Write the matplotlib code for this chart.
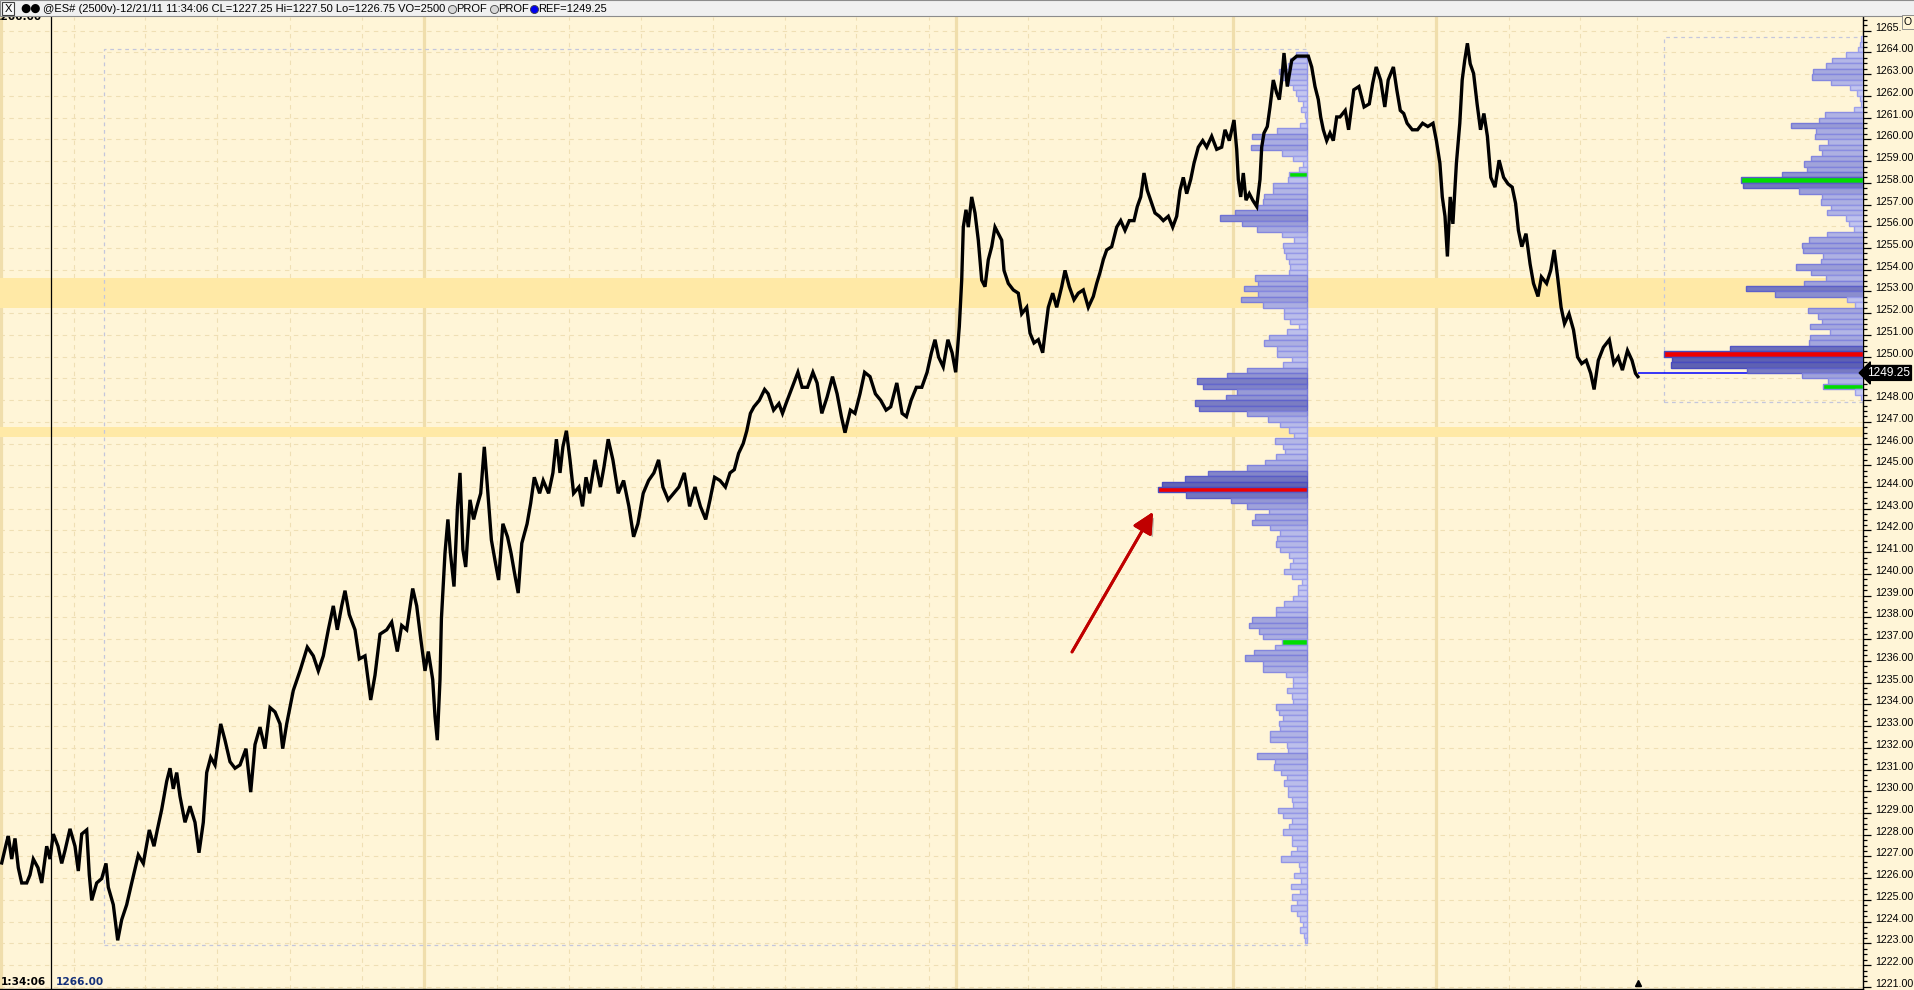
import numpy as np
import matplotlib.pyplot as plt
from matplotlib.patches import Rectangle
from matplotlib.lines import Line2D
from matplotlib.colors import to_rgb
from matplotlib.ticker import MultipleLocator
from matplotlib.transforms import Bbox
import matplotlib.patheffects as pe

plt.rcParams['font.family'] = ['Liberation Sans', 'DejaVu Sans']

# ---- values ----
# (bar position, price) of the @ES# 2500-volume bars
path_a = [(1.7, 1226.70), (6.7, 1227.67), (8.3, 1227.94), (11.7, 1226.88), (15, 1227.83), (18.3, 1226.48),
          (21.7, 1225.78), (26.7, 1225.78), (30, 1226.15), (33.3, 1226.88), (38, 1226.48), (41.7, 1225.78),
          (46.7, 1227.47), (50, 1226.88), (53.3, 1228.03), (58, 1227.47), (61.7, 1226.68), (65, 1227.27),
          (70, 1228.27), (75, 1227.47), (78.3, 1226.33), (81.7, 1228.03), (86.7, 1228.22), (89.3, 1226.15),
          (91.7, 1224.98), (96.7, 1225.78), (101.7, 1225.98), (106, 1226.68), (108.3, 1225.58), (113.3, 1224.78),
          (117.7, 1223.14), (121.7, 1224.09), (126.7, 1224.78), (131.7, 1225.78), (138.3, 1227.07), (143.3, 1226.68),
          (149.3, 1228.22), (154, 1227.47), (157.3, 1228.22), (161.7, 1229.16), (166.7, 1230.46), (170, 1231.06),
          (173.3, 1230.11), (176.7, 1230.86), (180, 1229.76), (185, 1228.57), (190, 1229.31), (195, 1228.57),
          (199, 1227.17), (203.3, 1228.57), (206.7, 1230.86), (210.7, 1231.56), (215, 1231.21), (220.7, 1233.10),
          (225, 1232.35), (230, 1231.36), (235, 1231.06), (240, 1231.21), (246, 1231.96), (250.7, 1229.96),
          (255, 1232.15), (260, 1232.95), (265, 1231.96), (270, 1233.85), (275, 1233.65), (280, 1233.10),
          (282.7, 1231.96), (286.7, 1233.10), (293.3, 1234.64), (300, 1235.54), (307.3, 1236.63), (313.3, 1236.23),
          (318.3, 1235.54), (323.3, 1236.23), (328.3, 1237.43), (333.3, 1238.53), (337.3, 1237.43), (341.7, 1238.53),
          (345, 1239.23), (349.3, 1238.13), (355, 1237.43), (359.3, 1236.09), (365, 1236.23), (370.7, 1234.20),
          (375, 1235.34), (380, 1237.23), (386.7, 1237.43), (391.7, 1237.78), (397.3, 1236.43), (401.7, 1237.63),
          (406.7, 1237.43), (412.7, 1239.33), (416.7, 1238.53), (420.7, 1237.03), (425, 1235.54), (428.3, 1236.43),
          (432.7, 1235.14), (435, 1233.45), (437.3, 1232.35), (440, 1235.14)]
path_b = [(441.4, 1237.93), (445, 1240.97), (447.9, 1242.51), (450.4, 1240.97), (454, 1239.42), (457.5, 1243.11),
          (460, 1244.65), (462.9, 1241.12), (465.7, 1240.32), (470, 1243.41), (473.6, 1242.51), (477, 1243.11),
          (480.7, 1243.71), (484.3, 1245.85), (487.9, 1243.71), (491.4, 1241.56), (495, 1240.62), (498.6, 1239.72),
          (502.9, 1242.31), (507.5, 1241.71), (511, 1240.97), (514.6, 1240.02), (518.2, 1239.12), (521.8, 1241.41),
          (527.1, 1242.31), (530.7, 1243.26), (534.3, 1244.45), (539.6, 1243.71), (543.2, 1244.30), (548.6, 1243.71),
          (552.9, 1244.65), (556.4, 1246.20), (560, 1244.65), (562.9, 1245.85), (566.4, 1246.59), (570, 1245.25),
          (573.6, 1243.71), (578.9, 1244.00), (582.5, 1243.11), (586, 1244.45), (589.6, 1243.71), (595, 1245.25),
          (600.4, 1244.00), (603.9, 1244.90), (608.2, 1246.20), (612.9, 1245.25), (618.2, 1243.71), (623.6, 1244.30),
          (628.9, 1243.11), (633.6, 1241.71), (637.9, 1242.31), (643.2, 1243.71), (648.6, 1244.30), (653.9, 1244.65),
          (658.6, 1245.25), (662.9, 1244.00), (668.2, 1243.41), (673.6, 1243.71), (678.9, 1244.00), (684.3, 1244.65),
          (689.6, 1243.11), (695, 1244.00), (700.4, 1243.11), (705.7, 1242.51), (710, 1243.41), (714.6, 1244.45),
          (720, 1244.30), (725.4, 1244.00), (730, 1244.65), (734.3, 1244.80), (738.6, 1245.55), (743.2, 1246.00),
          (746.8, 1246.59), (750.4, 1247.39), (753.9, 1247.69), (759.3, 1247.99), (764.6, 1248.49), (768.2, 1248.29),
          (773.6, 1247.54), (778.9, 1247.84), (782.5, 1247.39), (786, 1247.84), (791.4, 1248.49), (797.9, 1249.28),
          (802.1, 1248.59), (807.5, 1248.59), (812.9, 1249.28), (817.1, 1248.79), (821.8, 1247.39), (827.1, 1248.14),
          (832.5, 1249.08), (837.1, 1248.29), (841.4, 1247.24), (845, 1246.50), (850.4, 1247.54), (855, 1247.39),
          (860, 1248.29), (864.6, 1249.28), (870, 1249.08), (875.4, 1248.29), (880.7, 1247.99), (886.1, 1247.54),
          (890.7, 1247.69), (896.8, 1248.79), (902.1, 1247.39), (906.4, 1247.24), (911.1, 1247.99), (916.4, 1248.59),
          (921.8, 1248.59), (927.1, 1249.28), (931.4, 1250.18), (935, 1250.78), (938.6, 1249.98), (943.2, 1249.53),
          (947.9, 1250.78), (952.1, 1250.18), (955.7, 1249.28), (959.3, 1251.38)]
path_c = [(961.7, 1253.52), (963.3, 1255.96), (966, 1256.76), (968.3, 1255.96), (971.7, 1257.35), (975, 1256.61),
          (978.3, 1255.36), (981.7, 1253.52), (985, 1253.22), (988.3, 1254.46), (991.7, 1255.06), (995, 1255.96),
          (998.3, 1255.66), (1001.7, 1255.36), (1004, 1253.97), (1008.3, 1253.37), (1013.3, 1253.07), (1018.3, 1252.92),
          (1021.7, 1251.97), (1026.7, 1252.27), (1030, 1251.08), (1034, 1250.63), (1038.3, 1250.78), (1042.7, 1250.18),
          (1045, 1251.08), (1048.3, 1252.27), (1052.7, 1252.92), (1056.7, 1252.27), (1061.7, 1253.22), (1065, 1253.97),
          (1069.3, 1253.22), (1074, 1252.62), (1078.3, 1252.92), (1083.3, 1253.07), (1088.3, 1252.27), (1093.3, 1252.77),
          (1096.7, 1253.37), (1100, 1253.87), (1103.3, 1254.46), (1106.7, 1254.91), (1111.7, 1255.06), (1116.7, 1255.96),
          (1120.7, 1256.26), (1125, 1255.81), (1129.3, 1256.26), (1134, 1256.26), (1137.3, 1256.91), (1140.7, 1257.35),
          (1144, 1258.45), (1147.3, 1257.65), (1151.7, 1257.05), (1155, 1256.61), (1159.3, 1256.46), (1163.3, 1256.26),
          (1168.3, 1256.46), (1172.7, 1255.96), (1176.7, 1256.46), (1180, 1257.65), (1183.3, 1258.25), (1186.7, 1257.50),
          (1190.7, 1258.15), (1194, 1258.90), (1198.3, 1259.64), (1202.7, 1259.94), (1206.7, 1259.64), (1211.7, 1260.14),
          (1216.7, 1259.54), (1221.7, 1259.64), (1225, 1260.44), (1229.3, 1259.94), (1234, 1260.89), (1236.7, 1259.54),
          (1238.3, 1258.15), (1240.7, 1257.35), (1243.3, 1258.45), (1246, 1257.20), (1249.3, 1257.50), (1252.7, 1257.20),
          (1256.7, 1256.91), (1260, 1258.15), (1261.7, 1259.64), (1264, 1260.29), (1267.3, 1260.59), (1270, 1261.49),
          (1273.3, 1262.73), (1276.7, 1262.13), (1279.3, 1261.83), (1281.7, 1262.73), (1284, 1263.97), (1287.3, 1262.43),
          (1291.7, 1263.63), (1296.7, 1263.83), (1303.3, 1263.83), (1308.3, 1263.83), (1311.7, 1263.33), (1315, 1262.43),
          (1318.3, 1261.83), (1320.7, 1261.03), (1323.3, 1260.44), (1326.7, 1259.94), (1330, 1260.29), (1333.3, 1259.94),
          (1336.7, 1261.03)]
path_d = [(1340, 1261.03), (1345.2, 1261.33), (1348.6, 1260.44), (1353.8, 1262.28), (1358.9, 1262.43), (1364.1, 1261.49),
          (1369.3, 1261.63), (1372.7, 1262.58), (1376.2, 1263.33), (1380.6, 1262.73), (1384.8, 1261.49), (1388.2, 1262.73),
          (1393.4, 1263.33), (1396.8, 1262.28), (1400.3, 1261.33), (1403.7, 1261.19), (1407.1, 1260.74), (1412.3, 1260.44),
          (1417.5, 1260.44), (1422.6, 1260.74), (1427.8, 1260.59), (1433, 1260.74), (1436.4, 1259.94), (1439.9, 1258.90),
          (1442.3, 1257.35), (1445, 1256.46), (1447.4, 1254.61), (1450.2, 1257.35), (1452.9, 1256.11), (1456.4, 1258.90),
          (1459.8, 1260.74), (1462.2, 1262.73), (1464.7, 1263.63), (1467.4, 1264.42), (1470.2, 1263.48), (1473.6, 1263.03),
          (1477.1, 1261.63), (1480.5, 1260.44), (1483.9, 1261.19), (1487.4, 1260.14), (1490.8, 1258.25), (1495, 1257.80),
          (1499.1, 1259.04), (1503.6, 1258.25), (1508, 1257.95), (1512.2, 1257.80), (1515.6, 1257.05), (1518.4, 1255.81),
          (1521.8, 1255.06), (1526, 1255.66), (1530.1, 1254.26), (1533.5, 1253.37), (1538, 1252.77), (1541.4, 1253.67),
          (1546.6, 1253.37), (1550.7, 1253.97), (1554.2, 1254.91), (1557.6, 1253.67), (1561.1, 1252.27), (1564.5, 1251.52),
          (1569, 1251.97), (1573.5, 1251.23), (1577.6, 1249.98), (1581.7, 1249.68), (1586.2, 1249.83), (1590.7, 1249.23),
          (1594.1, 1248.49), (1598.3, 1249.83), (1603.4, 1250.43), (1609.3, 1250.78), (1613.8, 1249.68), (1618.2, 1249.98),
          (1622.4, 1249.38), (1627.5, 1250.28), (1632, 1249.83), (1635.5, 1249.23), (1637.9, 1249.08)]

last_price = 1249.25

# volume profile of the previous session, 0.25 bins from the top down
vp1_top = 1264.0
vp1_vol = [11.6, 17.3, 19, 28.3, 26.7, 18, 14, 11.6, 9, 4,
           6.6, 2.3, 1.3, 7.3, 30, 55, 45, 56.6, 25.6, 14,
           4, 8, 18, 19.6, 34.6, 34.6, 43, 44, 49, 72,
           87.3, 65, 50.6, 25, 13, 24, 23, 21.3, 18, 17.3,
           18, 52, 49.6, 63, 49, 66.3, 44, 23, 23, 17.3,
           8, 20, 38, 43, 30, 30, 15.6, 24, 60, 80,
           110, 104, 70, 81.3, 112, 108, 60, 39, 27, 18,
           13, 32, 24, 22, 31, 42, 60, 99, 122, 145,
           149, 121, 76, 60, 38, 52, 55, 37, 27, 30,
           31, 27, 18, 14, 17, 23, 15, 5, 9, 9,
           14, 23, 31, 31, 55, 58, 48, 44, 25, 32,
           53, 62, 44, 44, 21, 14, 14, 20, 15, 14,
           31, 28, 24, 28, 27, 37, 37, 20, 19, 50,
           32, 33, 26, 20, 23, 19, 19, 15, 14, 29,
           24, 15, 18, 24, 15, 15, 10, 16, 26, 8,
           7, 13, 6, 16, 7, 15, 10, 16, 10, 7,
           4, 7, 3, 2]
vp1_poc = 1243.75
vp1_marks = [1258.25, 1236.75]

# volume profile of the current session
vp2_top = 1264.75
vp2_vol = [1.7, 2.8, 5.2, 17.2, 31, 37.2, 50.3, 51.3, 32, 12.7,
           6.2, 3.4, 1.7, 9, 37.9, 44, 72, 46.8, 48.2, 35,
           44, 40.6, 52, 59.2, 56, 81.3, 122, 120, 64, 41,
           42.4, 32.4, 35.8, 17.2, 14.1, 9.3, 35.8, 54, 61, 60.3,
           40.3, 42.4, 67.1, 52.3, 37.2, 59.2, 117, 88.2, 16.2, 8.3,
           55, 44.8, 41, 53, 33, 53, 54, 132.6, 198.7, 191,
           192, 116, 61, 35, 40, 7.9, 2.4]
vp2_poc = 1250.0
vp2_marks = [1258.0, 1248.5]

zones = [(1252.25, 1253.63), (1246.30, 1246.78)]
session_bars = [1, 424, 956.4, 1232.7, 1436.4]
time_grid = [73.7, 145.5, 217, 290, 362, 496.8, 569, 640.7, 712.9, 784.6, 856.4, 928.6,
             1028.3, 1100.7, 1172.7, 1305, 1377.2, 1508.7, 1580.5, 1637.4]
cursor_bar = 51

# ---- figure ----
W, H = 1915, 990
BG = '#fff5d7'
GRID = '#efdfb4'
fig = plt.figure(figsize=(W / 100, H / 100), dpi=100, facecolor=BG)
ax = fig.add_axes([0, 1 / H, 1863 / W, 972 / H])
ax.set_facecolor(BG)
ax.set_xlim(0, 1863)
ax.set_ylim(1220.90, 1265.63)
ax.set_axisbelow(True)

ax.yaxis.set_major_locator(MultipleLocator(1))
ax.yaxis.set_minor_locator(MultipleLocator(0.25))
ax.yaxis.tick_right()
ax.grid(axis='y', which='major', color=GRID, ls=(0, (4, 4)), lw=0.8)
for x in time_grid:
    ax.axvline(x, color=GRID, ls=(0, (4, 4)), lw=0.8, zorder=0.6)
for x in session_bars:
    ax.axvline(x, color='#f0deac', lw=2.3, zorder=0.7)
for lo, hi in zones:
    ax.axhspan(lo, hi, color='#ffe9a6', lw=0, zorder=0.8)

ax.tick_params(axis='y', which='major', length=6, width=0.9, color='black', labelright=False, labelleft=False)
ax.tick_params(axis='y', which='minor', length=2.6, width=0.9, color='black')
ax.tick_params(axis='x', which='both', bottom=False, labelbottom=False)
for s in ['top', 'left']:
    ax.spines[s].set_visible(False)
ax.spines['right'].set_linewidth(1.0)
ax.spines['bottom'].set_linewidth(1.0)

# price scale labels; the one under the last-price marker is hidden in the reference,
# the top one runs under the little scroll box
for p in range(1221, 1266):
    if p == round(last_price):
        continue
    t = ax.text(1875, p, f'{p:.2f}', ha='left', va='baseline', fontsize=7.7, clip_on=False)
    if p == 1265:
        t.set_clip_on(True)
        t.set_clip_box(Bbox([[0, 0], [1901, H]]))

# profile boxes
ax.add_patch(Rectangle((104.5, 1222.92), 1307.3 - 104.5, 1264.18 - 1222.92, fill=False,
                       ec='#c4c6dc', ls=(0, (3, 3)), lw=0.9, zorder=1))
ax.add_patch(Rectangle((1664.4, 1247.93), 1863 - 1664.4, 1264.70 - 1247.93, fill=False,
                       ec='#c4c6dc', ls=(0, (3, 3)), lw=0.9, zorder=1))

LIGHT, DARK = np.array(to_rgb('#cbcef4')), np.array(to_rgb('#5e61b3'))
ELIGHT, EDARK = np.array(to_rgb('#a2a5ee')), np.array(to_rgb('#484bbf'))


def draw_profile(top, vols, right, poc, marks):
    vols = np.asarray(vols, float)
    lows = top - 0.25 * np.arange(1, len(vols) + 1)
    t = np.clip(vols / 150.0, 0, 1)[:, None]
    face = [tuple(c) for c in (1 - t) * LIGHT + t * DARK]
    edge = [tuple(c) for c in (1 - t) * ELIGHT + t * EDARK]
    for i, lo in enumerate(lows):
        if np.isclose(lo, poc):
            face[i] = '#f00000'
        elif any(np.isclose(lo, m) for m in marks):
            face[i] = '#00dd00'
    ax.barh(lows, vols, height=0.25, left=right - vols, align='edge',
            color=face, edgecolor=edge, linewidth=1.0, zorder=3)


draw_profile(vp1_top, vp1_vol, 1307.3, vp1_poc, vp1_marks)

# price trace
bars, prices = zip(*(path_a + path_b + path_c + path_d))
ax.hlines(last_price, bars[-1], 1863, colors='#0000ff', lw=1.1, zorder=2.5)
draw_profile(vp2_top, vp2_vol, 1863, vp2_poc, vp2_marks)
ax.plot(bars, prices, color='black', lw=2.4, zorder=5, solid_joinstyle='miter')
ax.plot([bars[-1]], [0.006], marker='^', ms=5, color='black',
        transform=ax.get_xaxis_transform(), clip_on=False, zorder=6)

ax.axvline(cursor_bar, color='black', lw=0.9, zorder=6)

arr = ax.annotate('', xy=(1153, 1242.85), xytext=(1072, 1236.41),
                  arrowprops=dict(arrowstyle='-|>,head_length=0.9,head_width=0.45', color='#c00000',
                                  lw=2.1, mutation_scale=14, shrinkA=0, shrinkB=0), zorder=7)
arr.arrow_patch.set_path_effects([pe.withSimplePatchShadow(offset=(2, -2), shadow_rgbFace='#808080', alpha=0.5),
                                  pe.Normal()])

ax.text(1867, last_price, f'{last_price:.2f}', color='white', fontsize=8.6, ha='left', va='center',
        bbox=dict(boxstyle='larrow,pad=0.12', fc='black', ec='black'), zorder=8, clip_on=False)

# cursor read-outs
fig.text(42 / W, 1 - 19.5 / H, '1266.00', ha='right', va='baseline', fontsize=7.6,
         fontweight='bold', family='DejaVu Sans', zorder=5)
fig.text(1 / W, 1 - 985 / H, '1:34:06', ha='left', va='baseline', fontsize=7.6,
         fontweight='bold', family='DejaVu Sans', zorder=5)
fig.text(56 / W, 1 - 985 / H, '1266.00', ha='left', va='baseline', fontsize=7.6, color='#14307a',
         fontweight='bold', family='DejaVu Sans', zorder=5)

# title bar
bar_y = 1 - 8.5 / H
fig.add_artist(Rectangle((0, 1 - 16 / H), 1, 16 / H, transform=fig.transFigure,
                         fc='#f0f0f0', ec='#8c8c8c', lw=0.8, zorder=10))
fig.add_artist(Rectangle((2 / W, 1 - 15 / H), 12 / W, 13 / H, transform=fig.transFigure,
                         fc='#f8f8f8', ec='#404040', lw=0.8, zorder=11))
fig.text(8 / W, bar_y, 'X', ha='center', va='center', fontsize=8, zorder=12)
fig.text(20 / W, bar_y, '●●', ha='left', va='center', fontsize=8.5, family='DejaVu Sans', zorder=12)
fig.text(43 / W, bar_y, '@ES# (2500v)-12/21/11 11:34:06 CL=1227.25 Hi=1227.50 Lo=1226.75 VO=2500',
         ha='left', va='center', fontsize=8, zorder=12)
for cx, tx, fc in [(452, 'PROF', '#d8d8d8'), (494, 'PROF', '#d8d8d8'), (534, 'REF=1249.25', '#0000ee')]:
    fig.add_artist(Line2D([cx / W], [bar_y], marker='o', ms=5.8, mfc=fc, mec='#404040', mew=0.6,
                          transform=fig.transFigure, zorder=12))
    fig.text((cx + 4.5) / W, bar_y, tx, ha='left', va='center', fontsize=8, zorder=12)

fig.text(1908 / W, 1 - 22 / H, 'O', ha='center', va='center', fontsize=7.5, zorder=12,
         bbox=dict(boxstyle='square,pad=0.15', fc=BG, ec='#808080', lw=0.6))

fig.savefig('out.png', dpi=100, facecolor=BG)
